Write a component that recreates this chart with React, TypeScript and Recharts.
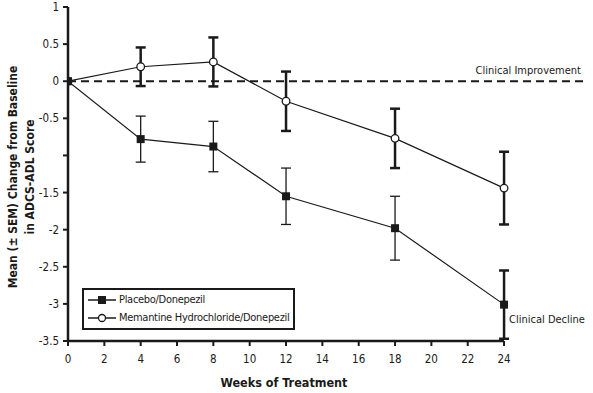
import React from 'react';
import { LineChart, Line, XAxis, YAxis, ErrorBar, ReferenceLine, ReferenceDot, Legend } from 'recharts';

const weeks = [0, 4, 8, 12, 18, 24];
const placebo = [0, -0.78, -0.88, -1.55, -1.98, -3.01];
const placeboSemThin = [null, 0.31, 0.34, 0.38, 0.43, null];
const placeboSemThick = [null, null, null, null, null, 0.46];
const memantine = [0, 0.195, 0.26, -0.27, -0.77, -1.44];
const memantineSem = [null, 0.26, 0.33, 0.4, 0.4, 0.49];
const xTicks = [0, 2, 4, 6, 8, 10, 12, 14, 16, 18, 20, 22, 24];
const yTicks = [1, 0.5, 0, -0.5, -1, -1.5, -2, -2.5, -3, -3.5];
const seriesNames = ['Placebo/Donepezil', 'Memantine Hydrochloride/Donepezil'];

const data = weeks.map((w, i) => ({
  week: w,
  placebo: placebo[i],
  placeboSemThin: placeboSemThin[i],
  placeboSemThick: placeboSemThick[i],
  memantine: memantine[i],
  memantineSem: memantineSem[i],
}));

const FONT = "'DejaVu Sans Condensed', 'Liberation Sans', sans-serif";
const INK = '#1a1a1a';

const SquareDot = (p: any) => {
  if (p.cx == null || p.cy == null) return null;
  return <rect key={`sq-${p.index}`} x={p.cx - 4} y={p.cy - 4} width={8} height={8} fill={INK} />;
};
const CircleDot = (p: any) => {
  if (p.cx == null || p.cy == null) return null;
  return <circle key={`ci-${p.index}`} cx={p.cx} cy={p.cy} r={3.8} fill="#fff" stroke={INK} strokeWidth={1.3} />;
};

const YLabel = (props: any) => {
  const vb = props.viewBox || { x: 0, y: 0, width: 0, height: 0 };
  const cy = vb.y + vb.height / 2 + 3;
  return (
    <g>
      <text x={13} y={cy} transform={`rotate(-90, 13, ${cy})`} textAnchor="middle" dominantBaseline="central"
        fontFamily={FONT} fontWeight="bold" fontSize={12} fill={INK}>
        Mean (± SEM) Change from Baseline
      </text>
      <text x={30} y={cy} transform={`rotate(-90, 30, ${cy})`} textAnchor="middle" dominantBaseline="central"
        fontFamily={FONT} fontWeight="bold" fontSize={12} fill={INK}>
        in ADCS-ADL Score
      </text>
    </g>
  );
};

const XLabel = (props: any) => {
  const vb = props.viewBox || { x: 0, y: 0, width: 0, height: 0 };
  return (
    <text x={vb.x + 216} y={vb.y + 41} textAnchor="middle" dominantBaseline="central"
      fontFamily={FONT} fontWeight="bold" fontSize={12.5} fill={INK}>
      Weeks of Treatment
    </text>
  );
};

const LegendBox = () => (
  <div style={{ border: `2px solid ${INK}`, padding: '1px 4px 1px 3px', fontFamily: FONT, fontSize: 11, letterSpacing: '-0.3px', color: INK, background: '#fff', lineHeight: '18px', whiteSpace: 'nowrap' }}>
    <div style={{ display: 'flex', alignItems: 'center' }}>
      <svg width={30} height={12} style={{ marginRight: 2 }}>
        <line x1={1} y1={6} x2={29} y2={6} stroke={INK} strokeWidth={1.5} />
        <rect x={11} y={2} width={8} height={8} fill={INK} />
      </svg>
      <span>{seriesNames[0]}</span>
    </div>
    <div style={{ display: 'flex', alignItems: 'center' }}>
      <svg width={30} height={12} style={{ marginRight: 2 }}>
        <line x1={1} y1={6} x2={29} y2={6} stroke={INK} strokeWidth={1.5} />
        <circle cx={15} cy={6} r={3.5} fill="#fff" stroke={INK} strokeWidth={1.3} />
      </svg>
      <span>{seriesNames[1]}</span>
    </div>
  </div>
);

export default function App() {
  return (
    <div style={{ position: 'absolute', left: 0, top: 0, background: '#fff' }}>
      <LineChart width={593} height={393} data={data} margin={{ top: 7, right: 5, left: 0, bottom: 0 }}>
        <XAxis
          dataKey="week"
          type="number"
          domain={[0, 28.62]}
          ticks={xTicks}
          height={52}
          axisLine={false}
          tickLine={{ stroke: INK, strokeWidth: 2 }}
          tickSize={5}
          tickMargin={9}
          tick={{ fontFamily: FONT, fontSize: 11.5, fill: INK }}
          label={<XLabel />}
          allowDataOverflow
        />
        <YAxis
          type="number"
          domain={[-3.5, 1]}
          ticks={yTicks}
          width={68}
          axisLine={{ stroke: INK, strokeWidth: 2.5 }}
          tickLine={{ stroke: INK, strokeWidth: 2 }}
          tickSize={5}
          tickMargin={4}
          tick={{ fontFamily: FONT, fontSize: 11.5, fill: INK }}
          tickFormatter={(v: number) => (v === -1 ? '' : String(v))}
          interval={0}
          label={<YLabel />}
          allowDataOverflow
        />
        <ReferenceLine
          segment={[{ x: 0, y: -3.5 }, { x: 24, y: -3.5 }]}
          stroke={INK}
          strokeWidth={2.5}
          ifOverflow="visible"
        />
        <ReferenceLine
          y={0}
          stroke={INK}
          strokeWidth={2}
          strokeDasharray="8 5"
          label={{ value: 'Clinical Improvement', position: 'insideBottomRight', offset: 7, fontFamily: FONT, fontSize: 11, fill: INK }}
        />
        <ReferenceDot
          x={24}
          y={-3.2}
          r={0}
          fill="none"
          stroke="none"
          label={{ value: 'Clinical Decline', position: 'right', offset: 5, fontFamily: FONT, fontSize: 11, fill: INK }}
        />
        <Line
          dataKey="memantine"
          name={seriesNames[1]}
          stroke={INK}
          strokeWidth={1.2}
          dot={CircleDot}
          activeDot={false}
          isAnimationActive={false}
        >
          <ErrorBar dataKey="memantineSem" direction="y" width={5} stroke={INK} strokeWidth={2.5} />
        </Line>
        <Line
          dataKey="placebo"
          name={seriesNames[0]}
          stroke={INK}
          strokeWidth={1.2}
          dot={SquareDot}
          activeDot={false}
          isAnimationActive={false}
        >
          <ErrorBar dataKey="placeboSemThin" direction="y" width={5} stroke={INK} strokeWidth={1.3} />
          <ErrorBar dataKey="placeboSemThick" direction="y" width={5} stroke={INK} strokeWidth={2.5} />
        </Line>
        <Legend
          layout="vertical"
          align="center"
          verticalAlign="middle"
          content={<LegendBox />}
          wrapperStyle={{ left: 82, top: 288, width: 'auto', height: 'auto' }}
        />
      </LineChart>
    </div>
  );
}
